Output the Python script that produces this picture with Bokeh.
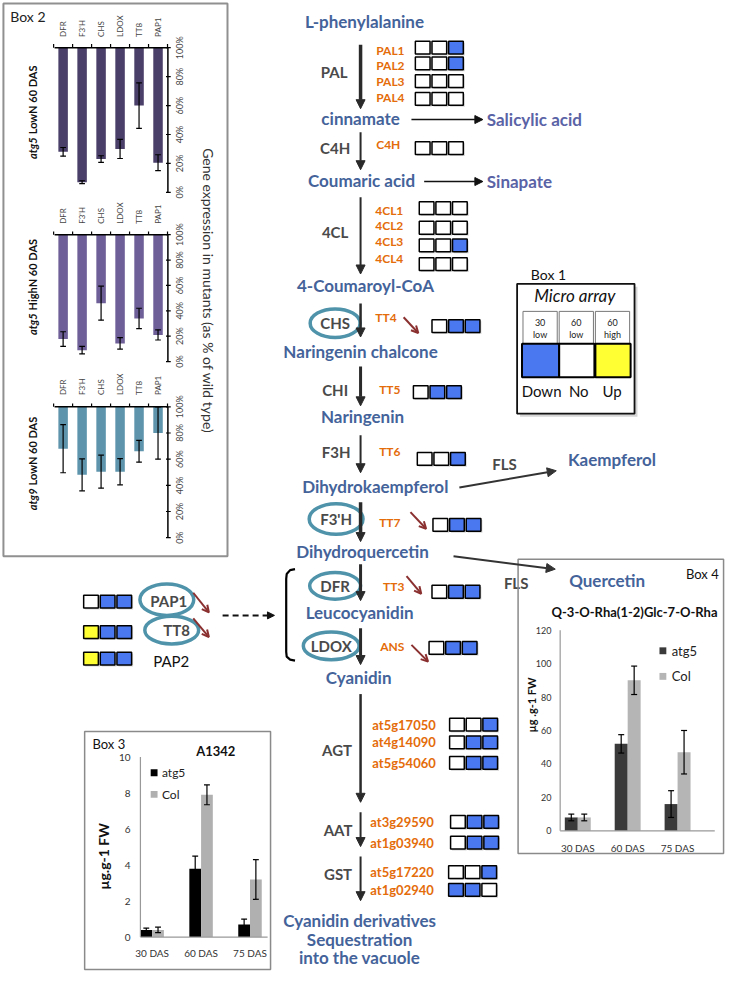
import numpy as np
from bokeh.plotting import figure
from bokeh.models import Range1d, Arrow, NormalHead, OpenHead
from bokeh.core.properties import value
from bokeh.embed import file_html
from bokeh.resources import INLINE

# ---------------- data ----------------
# Box 2: gene expression in mutants (as % of wild type)
box2_genes = ["DFR", "F3'H", "CHS", "LDOX", "TT8", "PAP1"]
pct_ticks = [0, 20, 40, 60, 80, 100]
atg5_lowN = [28, 7, 23, 30, 60, 20.5]
atg5_lowN_err = [3, 1, 2.3, 6.6, 15.7, 5.5]
atg5_highN = [17.7, 9, 46, 14.3, 34, 21]
atg5_highN_err = [5.8, 3, 13.4, 4.5, 8, 4]
atg9_lowN = [68, 48, 50.4, 50.4, 66, 80]
atg9_lowN_err = [18.4, 12.2, 12.6, 10, 8.3, 20]

# Box 3 / Box 4
das = ["30 DAS", "60 DAS", "75 DAS"]
series = ["atg5", "Col"]
a1342_atg5 = [0.4, 3.8, 0.7]
a1342_atg5_err = [0.1, 0.7, 0.3]
a1342_col = [0.4, 7.9, 3.2]
a1342_col_err = [0.15, 0.55, 1.1]
a1342_ticks = [0, 2, 4, 6, 8, 10]
q_atg5 = [8, 52, 16]
q_atg5_err = [2, 5.5, 8]
q_col = [8, 90, 47]
q_col_err = [2, 8.5, 13]
q_ticks = [0, 20, 40, 60, 80, 100, 120]

# Micro array status per gene (30 low, 60 low, 60 high): d=down, n=no change, u=up
microarray_cols = [("30", "low"), ("60", "low"), ("60", "high")]
microarray_legend = ["Down", "No", "Up"]
pal_genes = ["PAL1", "PAL2", "PAL3", "PAL4"]
pal_status = ["nnd", "nnd", "nnn", "nnn"]
c4h_genes = ["C4H"]
c4h_status = ["nnn"]
cl4_genes = ["4CL1", "4CL2", "4CL3", "4CL4"]
cl4_status = ["nnn", "nnn", "nnd", "nnn"]
tt4_status = ["ndd"]
tt5_status = ["ndd"]
tt6_status = ["nnd"]
tt7_status = ["ndd"]
tt3_status = ["ndd"]
ans_status = ["ndd"]
agt_genes = ["at5g17050", "at4g14090", "at5g54060"]
agt_status = ["nnd", "ndd", "ndd"]
aat_genes = ["at3g29590", "at1g03940"]
aat_status = ["ndd", "ndd"]
gst_genes = ["at5g17220", "at1g02940"]
gst_status = ["nnd", "ddn"]
pap_genes = ["PAP1", "TT8", "PAP2"]
pap_status = ["ndd", "udd", "udd"]

# ---------------- styles ----------------
COL = {"d": "#4a78f0", "n": "#ffffff", "u": "#ffff33"}
BLUE_T = "#44639a"
SIDE_T = "#5a63a6"
ORANGE = "#e46c0a"
GRAY_T = "#4a4a4a"
TEAL = "#4f93aa"
RED_A = "#8b3030"
FONT = "Lato"

W, H = 742, 988
p = figure(width=726, height=972, x_range=Range1d(0, W), y_range=Range1d(H, 0),
           x_axis_type=None, y_axis_type=None, output_backend="svg",
           toolbar_location=None, min_border=0)
p.grid.visible = False
p.outline_line_color = None
p.background_fill_color = "white"


def add_y(name, v0, r0, v1, r1):
    f0 = (H - r0) / H
    f1 = (H - r1) / H
    k = (v1 - v0) / (f1 - f0)
    s = v0 - f0 * k
    p.extra_y_ranges = {**p.extra_y_ranges, name: Range1d(s, s + k)}


def add_x(name, v0, r0, v1, r1):
    f0 = r0 / W
    f1 = r1 / W
    k = (v1 - v0) / (f1 - f0)
    s = v0 - f0 * k
    p.extra_x_ranges = {**p.extra_x_ranges, name: Range1d(s, s + k)}


def L(v):
    return v if isinstance(v, (list, tuple, np.ndarray)) else [v]


def txt(x, y, s, size, color="#222", style="normal", align="center", baseline="middle",
        angle=0, xr="default", yr="default"):
    xs, ys, ss = L(x), L(y), L(s)
    n = max(len(xs), len(ys), len(ss))
    xs = list(xs) * (n if len(xs) == 1 else 1)
    ys = list(ys) * (n if len(ys) == 1 else 1)
    ss = list(ss) * (n if len(ss) == 1 else 1)
    p.text(x=xs, y=ys, text=ss, text_font=value(FONT), text_font_size=f"{size}px",
           text_color=color, text_font_style=style, text_align=align,
           text_baseline=baseline, angle=angle, x_range_name=xr, y_range_name=yr)


def squares(x0, ys, statuses, w=15, h=13, gap=2):
    xs, yy, cs = [], [], []
    for y, st in zip(ys, statuses):
        for i, c in enumerate(st):
            xs.append(x0 + i * (w + gap) + w / 2)
            yy.append(y)
            cs.append(COL[c])
    p.rect(x=[x + 1.5 for x in xs], y=[y + 1.5 for y in yy], width=w, height=h,
           fill_color="#888888", fill_alpha=0.35, line_color=None)
    p.rect(x=xs, y=yy, width=w, height=h, fill_color=cs, line_color="black", line_width=1.5)


def arrow(x0, y0, x1, y1, lw=2, color="#222", head=9, dash="solid", kind="normal"):
    if kind == "normal":
        hd = NormalHead(size=head, fill_color=color, line_color=color, line_width=1)
    else:
        hd = OpenHead(size=head, line_color=color, line_width=lw)
    p.add_layout(Arrow(end=hd, x_start=x0, y_start=y0, x_end=x1, y_end=y1,
                       line_color=color, line_width=lw, line_dash=dash))


def frame(x0, y0, x1, y1, color="#8a8a8a", lw=1.5, fill=None):
    p.quad(left=[x0], right=[x1], top=[y0], bottom=[y1], fill_color=fill,
           line_color=color, line_width=lw)


def ebars(xname, yname, xs, vals, errs, cap, lw=1.2):
    xs = np.asarray(xs, float)
    vals = np.asarray(vals, float)
    errs = np.asarray(errs, float)
    lo, hi = vals - errs, vals + errs
    p.segment(x0=xs, x1=xs, y0=lo, y1=hi, line_color="black", line_width=lw,
              x_range_name=xname, y_range_name=yname)
    p.segment(x0=xs - cap, x1=xs + cap, y0=lo, y1=lo, line_color="black", line_width=lw,
              x_range_name=xname, y_range_name=yname)
    p.segment(x0=xs - cap, x1=xs + cap, y0=hi, y1=hi, line_color="black", line_width=lw,
              x_range_name=xname, y_range_name=yname)


# ================= Box 2 =================
frame(3, 3, 232, 565, color="#909090", lw=2)
txt(10, 16, "Box 2", 14, "#222", align="left")
add_x("b2x", 0, 64, 5, 161)
idx = np.arange(len(box2_genes))
panels = [
    ("b2a", atg5_lowN, atg5_lowN_err, 48, 195, "#4a3f68", 37, "atg5", "LowN 60 DAS", 139),
    ("b2b", atg5_highN, atg5_highN_err, 238, 367, "#6e5f98", 227, "atg5", "HighN 60 DAS", 318),
    ("b2c", atg9_lowN, atg9_lowN_err, 413, 546, "#5e95ad", 401, "atg9", "LowN 60 DAS", 496),
]
for yn, vals, errs, r100, r0, color, laby, mut, rest, split in panels:
    add_y(yn, 0, r0, 100, r100)
    p.vbar(x=idx, width=0.5, top=100, bottom=vals, fill_color=color, line_color=None,
           x_range_name="b2x", y_range_name=yn)
    ebars("b2x", yn, idx, vals, errs, 0.15)
    axx = 5.52
    p.segment(x0=[-0.45], x1=[axx], y0=[100], y1=[100], line_color="black", line_width=1.5,
              x_range_name="b2x", y_range_name=yn)
    p.segment(x0=[axx], x1=[axx], y0=[0], y1=[100], line_color="black", line_width=1.5,
              x_range_name="b2x", y_range_name=yn)
    b = np.arange(-0.5, 6.0, 1.0)
    p.segment(x0=b, x1=b, y0=[100] * len(b), y1=[102.5] * len(b), line_color="black",
              line_width=1.2, x_range_name="b2x", y_range_name=yn)
    p.segment(x0=[axx - 0.1] * len(pct_ticks), x1=[axx + 0.15] * len(pct_ticks),
              y0=pct_ticks, y1=pct_ticks, line_color="black", line_width=1.2,
              x_range_name="b2x", y_range_name=yn)
    txt(183, pct_ticks, [f"{t}%" for t in pct_ticks], 9, "#444", angle=np.pi / 2, yr=yn)
    txt(list(idx), laby, box2_genes, 8, "#444", align="left", angle=np.pi / 2, xr="b2x")
    txt(33, split, mut, 11, "#111", style="bold italic", align="right", angle=np.pi / 2)
    txt(33, split - 3, rest, 11, "#111", style="bold", align="left", angle=np.pi / 2)

txt(213, 295, "Gene expression in mutants (as % of wild type)", 14, "#333", angle=-np.pi / 2)

# ================= Pathway =================
AX = 368
compounds = [
    ("L-phenylalanine", 372, 21), ("cinnamate", 368, 120), ("Coumaric acid", 369, 183),
    ("4-Coumaroyl-CoA", 373, 290), ("Naringenin chalcone", 368, 357), ("Naringenin", 370, 423),
    ("Dihydrokaempferol", 383, 494), ("Dihydroquercetin", 370, 560),
    ("Leucocyanidin", 367, 622), ("Cyanidin", 366, 688),
    ("Cyanidin derivatives", 367, 935), ("Sequestration", 367, 954),
    ("into the vacuole", 367, 973), ("Kaempferol", 625, 467), ("Quercetin", 620, 590),
]
for s, x, y in compounds:
    txt(x, y, s, 17, BLUE_T, style="bold")
txt(497, 121, "Salicylic acid", 17, SIDE_T, style="bold", align="left")
txt(497, 184, "Sinapate", 17, SIDE_T, style="bold", align="left")

# main vertical arrows
for y0, y1, lw in [(45, 110, 3.5), (134, 172, 2), (200, 278, 2), (308, 342, 2.5),
                   (372, 412, 3), (442, 480, 2), (510, 550, 3.5), (573, 610, 3),
                   (638, 675, 3), (705, 815, 2.5), (825, 860, 2), (870, 915, 2)]:
    arrow(AX, y0, AX, y1, lw=lw, color="#2a2a2a", head=9)
arrow(420, 121, 493, 121, lw=1.5, color="#111", head=8)
arrow(433, 184, 493, 184, lw=1.5, color="#111", head=8)
arrow(469, 495, 568, 478, lw=2, color="#333", head=9)
arrow(463, 565, 567, 578, lw=2, color="#333", head=9)

# ellipses
for x, y, w, h in [(342, 328, 51, 29), (343, 527, 55, 31), (342, 595, 52, 27),
                   (338, 656, 57, 28), (170, 609, 55, 32), (175, 640, 55, 28)]:
    p.ellipse(x=[x], y=[y], width=w, height=h, fill_color=None, line_color=TEAL, line_width=3.5)

# gray enzyme labels
for s, x, y in [("PAL", 341, 73), ("C4H", 342, 150), ("4CL", 342, 235), ("CHS", 342, 328),
                ("CHI", 342, 396), ("F3H", 343, 459), ("F3'H", 343, 527), ("DFR", 342, 595),
                ("LDOX", 338, 656), ("AGT", 344, 762), ("AAT", 345, 843), ("GST", 345, 888),
                ("FLS", 515, 471), ("FLS", 527, 592), ("PAP1", 172, 610), ("TT8", 180, 640)]:
    txt(x, y, s, 15, GRAY_T, style="bold")

# orange gene labels + micro array squares
txt(384, [51, 66, 82, 99], pal_genes, 12, ORANGE, style="bold", align="left")
squares(424, [48, 64, 82, 100], pal_status)
txt(384, 146, c4h_genes, 12, ORANGE, style="bold", align="left")
squares(424, [150], c4h_status)
txt(383, [213, 229, 245, 262], cl4_genes, 12, ORANGE, style="bold", align="left")
squares(428, [211, 231, 249, 268], cl4_status)
txt(383, 322, "TT4", 12, ORANGE, style="bold", align="left")
squares(441, [331], tt4_status)
txt(387, 395, "TT5", 12, ORANGE, style="bold", align="left")
squares(422, [398], tt5_status)
txt(387, 458, "TT6", 12, ORANGE, style="bold", align="left")
squares(426, [466], tt6_status)
txt(387, 531, "TT7", 12, ORANGE, style="bold", align="left")
squares(442, [533], tt7_status)
txt(391, 596, "TT3", 12, ORANGE, style="bold", align="left")
squares(441, [601], tt3_status)
txt(388, 657, "ANS", 12, ORANGE, style="bold", align="left")
squares(438, [658], ans_status)
txt(380, [736, 754, 775], agt_genes, 13, ORANGE, style="bold", align="left")
squares(459, [736, 754, 775], agt_status)
txt(378, [835, 856], aat_genes, 13, ORANGE, style="bold", align="left")
squares(460, [835, 856], aat_status)
txt(378, [886, 904], gst_genes, 13, ORANGE, style="bold", align="left")
squares(458, [886, 904], gst_status)

# red regulation arrows
for x0, y0, x1, y1 in [(412, 322, 427, 338), (419, 520, 435, 537), (415, 585, 430, 603),
                       (420, 655, 437, 672), (197, 602, 213, 622), (197, 628, 213, 647)]:
    arrow(x0, y0, x1, y1, lw=2, color=RED_A, head=7, kind="open")

# PAP regulators
squares(85, [611, 642, 669], pap_status)
txt(156, 671, "PAP2", 15, "#111", align="left")
arrow(227, 625, 280, 625, lw=2, color="#111", head=7, dash="6 4")
p.line(x=[301, 296, 292.5, 292, 292, 292.5, 296, 301],
       y=[578, 579, 583, 588, 662, 667, 670, 671], line_color="black", line_width=2.2)

# ================= Box 1 =================
txt(542, 279, "Box 1", 14, "#111", align="left")
p.quad(left=[531], right=[651], top=[291], bottom=[423], fill_color="#888888", fill_alpha=0.35,
       line_color=None)
frame(528, 288, 648, 420, color="#111", lw=1.8, fill="white")
txt(587, 300, "Micro array", 17, "#111", style="italic")
lbx = [551.5, 588.5, 625.5]
p.rect(x=lbx, y=[332.5] * 3, width=35, height=33, fill_color="white", line_color="#777", line_width=1)
txt(lbx, 327, [a for a, b in microarray_cols], 9, "#222")
txt(lbx, 339, [b for a, b in microarray_cols], 9, "#222")
p.rect(x=[552, 589, 626], y=[366] * 3, width=[38, 36, 36], height=34,
       fill_color=[COL["d"], COL["n"], COL["u"]], line_color="black", line_width=2)
txt([553, 591, 625], 397, microarray_legend, 15, "#111")

# ================= Box 3 =================
frame(86, 743, 276, 985)
txt(94, 756, "Box 3", 13, "#111", align="left")
txt(220, 763, "A1342", 13, "#111", style="bold")
add_x("b3x", 0, 155, 2, 255)
add_y("b3y", 0, 952, 10, 769)
g = np.arange(len(das))
p.vbar(x=g - 0.12, width=0.24, top=a1342_atg5, bottom=0, fill_color="#000000", line_color=None,
       x_range_name="b3x", y_range_name="b3y")
p.vbar(x=g + 0.12, width=0.24, top=a1342_col, bottom=0, fill_color="#b0b0b0", line_color=None,
       x_range_name="b3x", y_range_name="b3y")
ebars("b3x", "b3y", g - 0.12, a1342_atg5, a1342_atg5_err, 0.06)
ebars("b3x", "b3y", g + 0.12, a1342_col, a1342_col_err, 0.06)
p.segment(x0=[143], x1=[143], y0=[0], y1=[10], line_color="#999", line_width=1.2, y_range_name="b3y")
p.segment(x0=[143], x1=[273], y0=[0], y1=[0], line_color="#999", line_width=1.2, y_range_name="b3y")
txt(133, a1342_ticks, [str(t) for t in a1342_ticks], 10, "#333", align="right", yr="b3y")
txt(list(g), 968, das, 10, "#333", xr="b3x")
txt(105, 870, "\u00b5g.g-1 FW", 14, "#111", style="bold", angle=np.pi / 2)
p.rect(x=[157, 157], y=[785, 807], width=7, height=7, fill_color=["#000000", "#b0b0b0"], line_color=None)
txt(165, [785, 807], series, 12, "#222", align="left")

# ================= Box 4 =================
frame(529, 568, 739, 867)
txt(734, 583, "Box 4", 13, "#111", align="right")
txt(648, 622, "Q-3-O-Rha(1-2)Glc-7-O-Rha", 13, "#111", style="bold")
add_x("b4x", 0, 590, 2, 692)
add_y("b4y", 0, 844, 120, 640)
p.vbar(x=g - 0.13, width=0.26, top=q_atg5, bottom=0, fill_color="#3a3a3a", line_color=None,
       x_range_name="b4x", y_range_name="b4y")
p.vbar(x=g + 0.13, width=0.26, top=q_col, bottom=0, fill_color="#b5b5b5", line_color=None,
       x_range_name="b4x", y_range_name="b4y")
ebars("b4x", "b4y", g - 0.13, q_atg5, q_atg5_err, 0.06)
ebars("b4x", "b4y", g + 0.13, q_col, q_col_err, 0.06)
p.segment(x0=[572], x1=[572], y0=[0], y1=[120], line_color="#999", line_width=1.2, y_range_name="b4y")
p.segment(x0=[572], x1=[730], y0=[0], y1=[0], line_color="#999", line_width=1.2, y_range_name="b4y")
txt(563, q_ticks, [str(t) for t in q_ticks], 9, "#333", align="right", yr="b4y")
txt(list(g), 861, das, 10, "#333", xr="b4x")
txt(543, 716, "\u00b5g .g-1 FW", 11, "#111", style="bold", angle=np.pi / 2)
p.rect(x=[677, 677], y=[661, 687], width=7, height=7, fill_color=["#3a3a3a", "#b5b5b5"], line_color=None)
txt(686, [661, 687], series, 13, "#222", align="left")

open("out.html", "w").write(file_html(p, INLINE))
